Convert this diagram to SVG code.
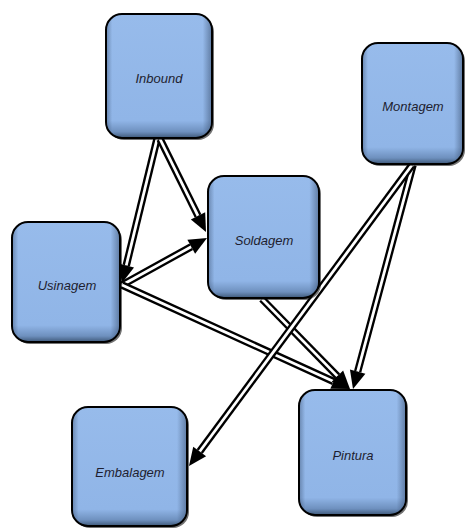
<svg xmlns="http://www.w3.org/2000/svg" width="466" height="531" viewBox="0 0 466 531">
<defs>
<linearGradient id="gv" x1="0" y1="0" x2="0" y2="1">
<stop offset="0" stop-color="#97BBEB"/>
<stop offset="0.86" stop-color="#90B5E7"/>
<stop offset="0.95" stop-color="#6E90BE"/>
<stop offset="1" stop-color="#3E5878"/>
</linearGradient>
<linearGradient id="gh" x1="0" y1="0" x2="1" y2="0">
<stop offset="0" stop-color="#2A3E5C" stop-opacity="0.35"/>
<stop offset="0.05" stop-color="#2A3E5C" stop-opacity="0"/>
<stop offset="0.92" stop-color="#2A3E5C" stop-opacity="0"/>
<stop offset="1" stop-color="#2A3E5C" stop-opacity="0.45"/>
</linearGradient>
</defs>
<style>
.sh{fill:#000;opacity:0.55}
.bx{fill:url(#gv);stroke:#000;stroke-width:2}
.ov{fill:url(#gh)}
.lb{font-family:"Liberation Sans",Arial,sans-serif;font-style:italic;font-size:13px;fill:#1E1E30;text-anchor:middle;dominant-baseline:central}
.o{fill:none;stroke:#000;stroke-width:7.5;stroke-linecap:butt}
.i{fill:none;stroke:#fff;stroke-width:2.8;stroke-linecap:butt}
.h{fill:#000}
</style>
<g id="connectors">
<path class="o" d="M157,139 L126.25,265.51"/><path class="i" d="M157,139 L126.25,265.51"/>
<polygon class="h" points="122,283 118.48,263.62 134.02,267.40"/>
<path class="o" d="M160,139 L198.02,215.86"/><path class="i" d="M160,139 L198.02,215.86"/>
<polygon class="h" points="206,232 190.85,219.41 205.19,212.31"/>
<path class="o" d="M122,285 L191.25,246.71"/><path class="i" d="M122,285 L191.25,246.71"/>
<polygon class="h" points="207,238 195.12,253.71 187.38,239.71"/>
<path class="o" d="M122,285 L333.62,381.53"/><path class="i" d="M122,285 L333.62,381.53"/>
<polygon class="h" points="350,389 330.3,388.81 336.94,374.25"/>
<path class="o" d="M262,299 L337.42,376.13"/><path class="i" d="M262,299 L337.42,376.13"/>
<polygon class="h" points="350,389 331.7,381.72 343.14,370.54"/>
<path class="o" d="M413,165 L357.66,371.61"/><path class="i" d="M413,165 L357.66,371.61"/>
<polygon class="h" points="353,389 349.93,369.54 365.39,373.68"/>
<path class="o" d="M412,165 L199.68,451.51"/><path class="i" d="M412,165 L199.68,451.51"/>
<polygon class="h" points="189,466 193.24,446.76 206.12,456.26"/>
</g>
<g id="inbound">
<rect class="sh" x="108" y="16" width="106" height="124" rx="16"/>
<rect class="bx" x="106" y="14" width="106" height="124" rx="16"/>
<rect class="ov" x="107" y="15" width="104" height="122" rx="15"/>
<text class="lb" x="159" y="78">Inbound</text>
</g>
<g id="montagem">
<rect class="sh" x="364" y="45" width="101" height="121" rx="16"/>
<rect class="bx" x="362" y="43" width="101" height="121" rx="16"/>
<rect class="ov" x="363" y="44" width="99" height="119" rx="15"/>
<text class="lb" x="413" y="106">Montagem</text>
</g>
<g id="soldagem">
<rect class="sh" x="210" y="178" width="111" height="122" rx="16"/>
<rect class="bx" x="208" y="176" width="111" height="122" rx="16"/>
<rect class="ov" x="209" y="177" width="109" height="120" rx="15"/>
<text class="lb" x="264" y="240">Soldagem</text>
</g>
<g id="usinagem">
<rect class="sh" x="14" y="224" width="108" height="120" rx="16"/>
<rect class="bx" x="12" y="222" width="108" height="120" rx="16"/>
<rect class="ov" x="13" y="223" width="106" height="118" rx="15"/>
<text class="lb" x="67" y="285">Usinagem</text>
</g>
<g id="pintura">
<rect class="sh" x="301" y="392" width="107" height="125" rx="16"/>
<rect class="bx" x="299" y="390" width="107" height="125" rx="16"/>
<rect class="ov" x="300" y="391" width="105" height="123" rx="15"/>
<text class="lb" x="353" y="455">Pintura</text>
</g>
<g id="embalagem">
<rect class="sh" x="74" y="409" width="115" height="119" rx="16"/>
<rect class="bx" x="72" y="407" width="115" height="119" rx="16"/>
<rect class="ov" x="73" y="408" width="113" height="117" rx="15"/>
<text class="lb" x="130" y="472">Embalagem</text>
</g>
</svg>
